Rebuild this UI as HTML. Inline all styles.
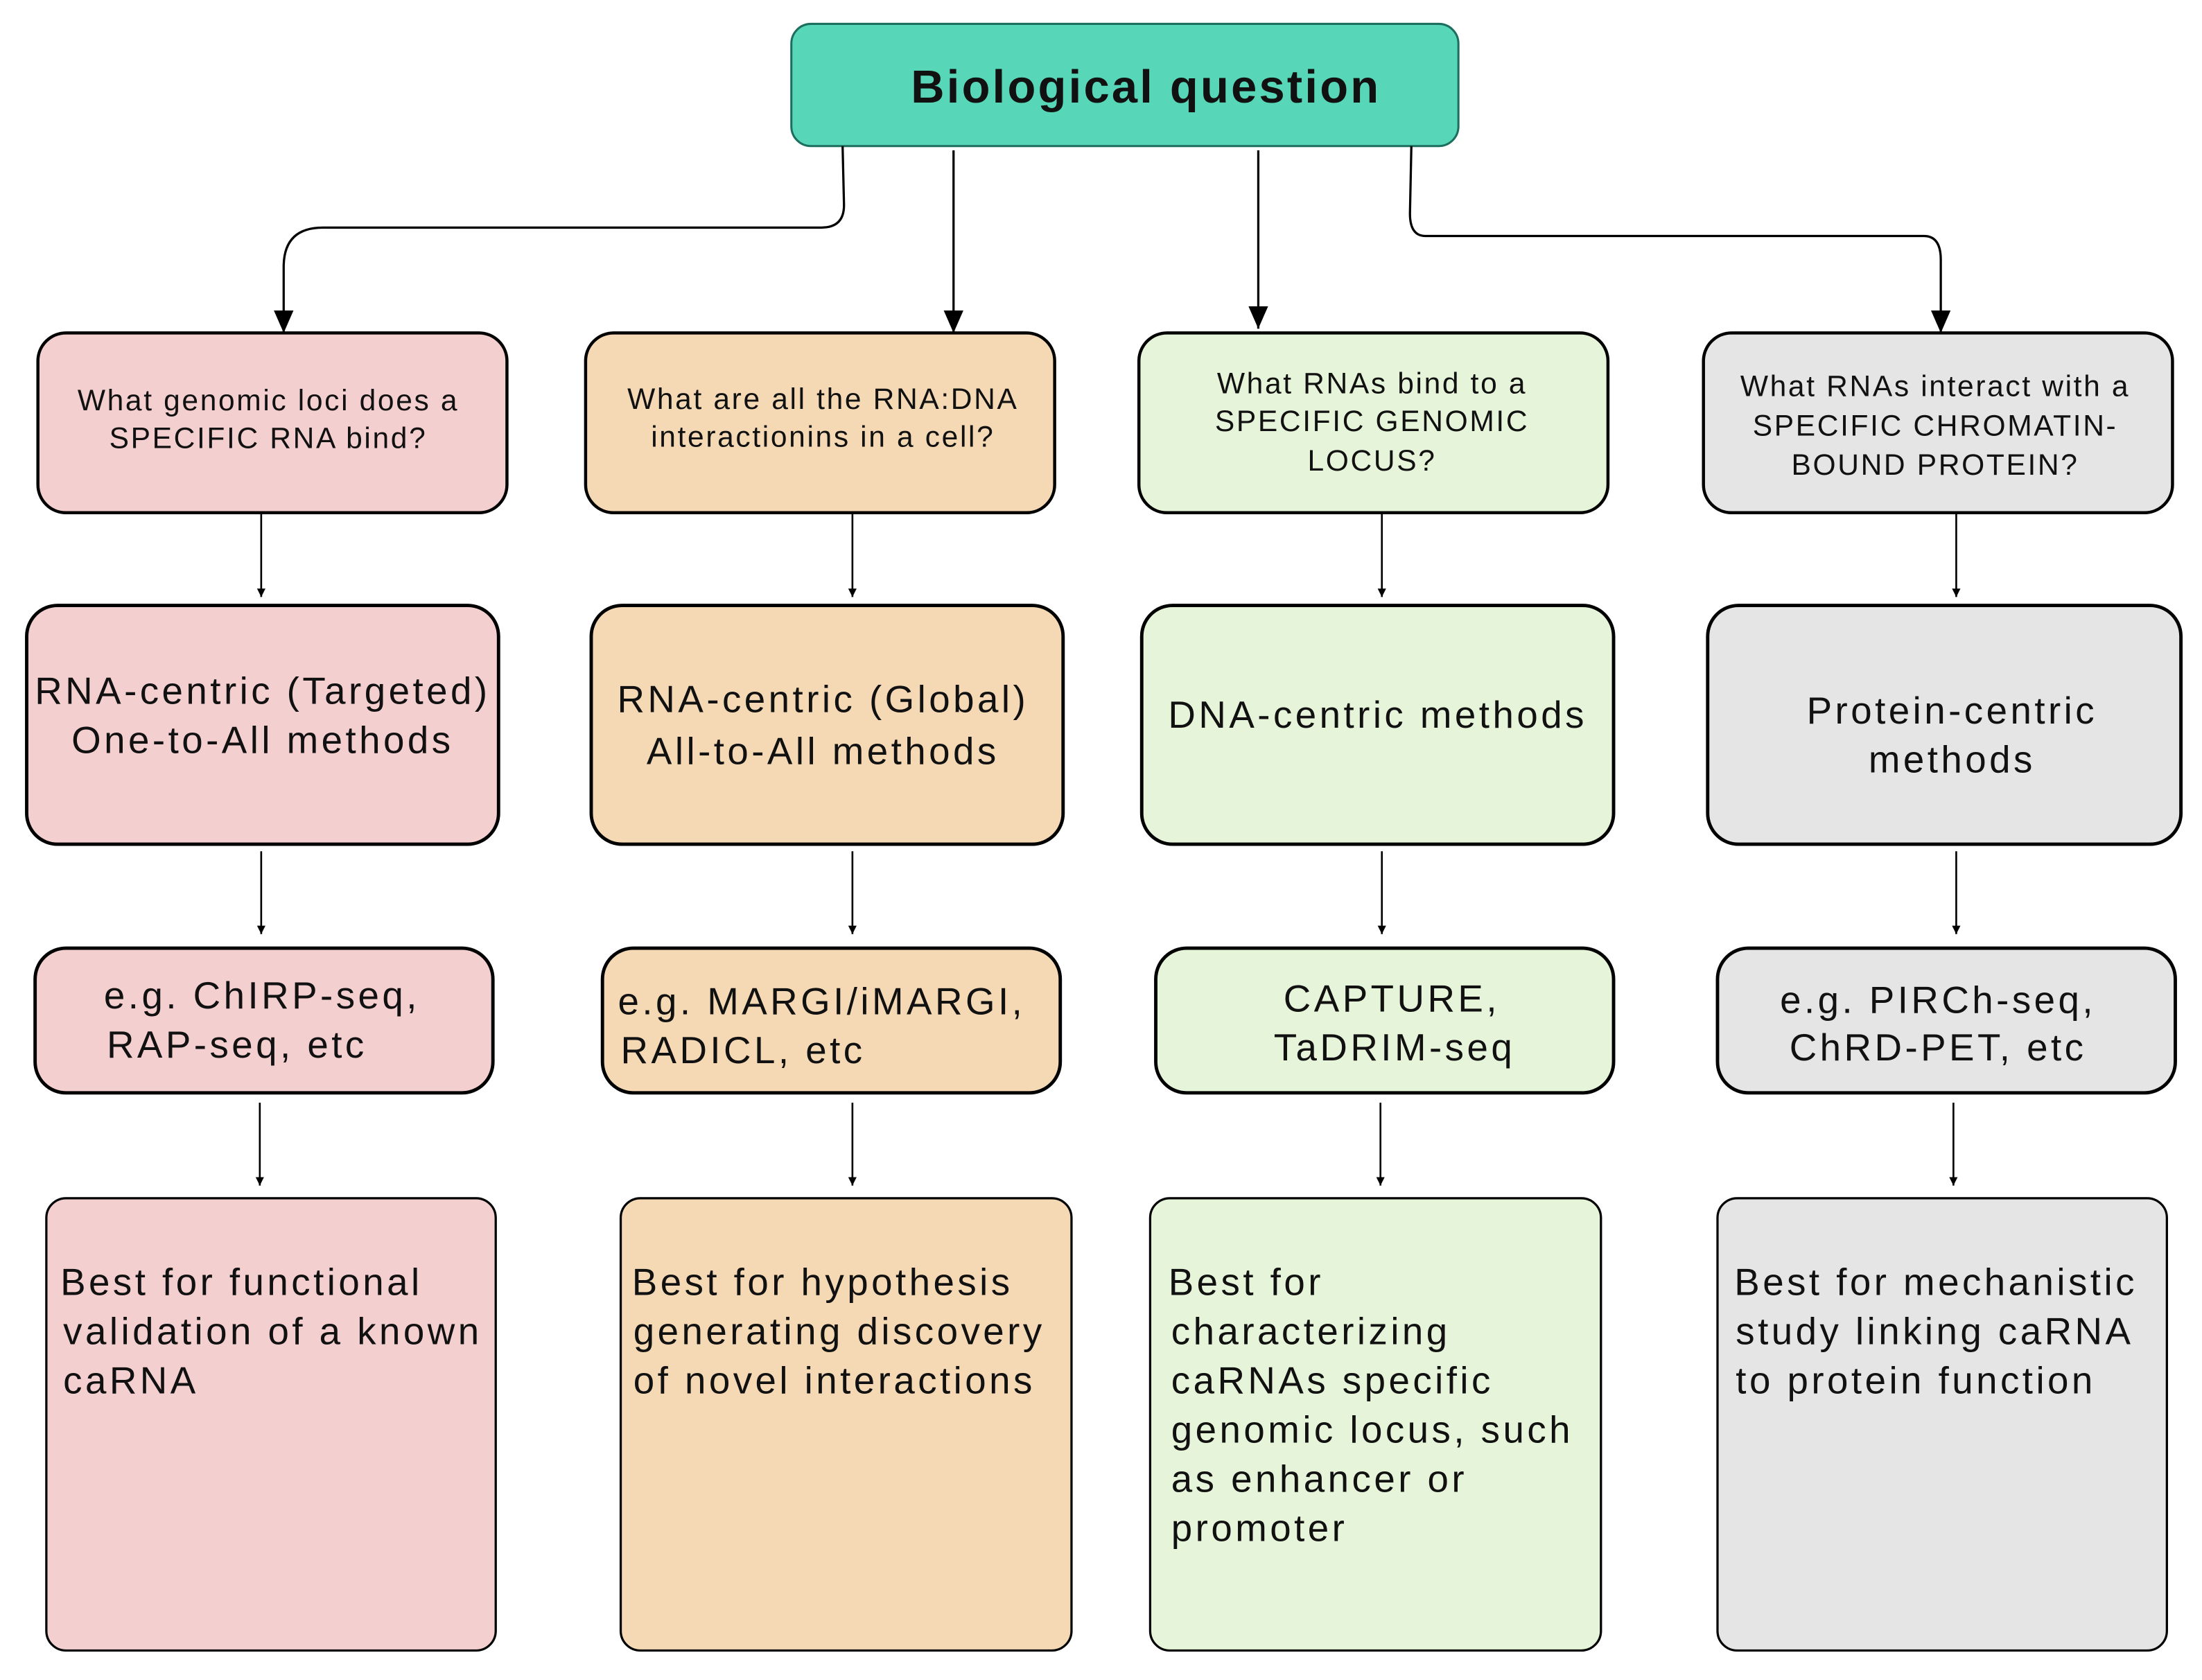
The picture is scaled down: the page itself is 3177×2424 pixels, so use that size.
<!DOCTYPE html>
<html><head><meta charset="utf-8"><style>
html,body{margin:0;padding:0;background:#fff;}
svg{display:block;}
text{font-family:"Liberation Sans",Arial,sans-serif;fill:#111;}
</style></head><body>
<svg width="3177" height="2424" viewBox="0 0 1568 1196" preserveAspectRatio="none" xmlns="http://www.w3.org/2000/svg" font-family="Liberation Sans, Arial, sans-serif">
<defs>
<marker id="s" markerWidth="6" markerHeight="6" refX="3" refY="6" markerUnits="userSpaceOnUse" viewBox="0 0 6 6"><path d="M0,0 L6,0 L3,6 Z" fill="#000"/></marker>
<marker id="b" markerWidth="14" markerHeight="16" refX="7" refY="16" markerUnits="userSpaceOnUse" viewBox="0 0 14 16"><path d="M0,0 L14,0 L7,16 Z" fill="#000"/></marker>
</defs>

<rect x="563.5" y="17" width="475" height="87" rx="14" fill="#57d6b8" stroke="#1c6e5e" stroke-width="1.5"/>
<text x="816" y="73" font-family="Liberation Sans, Arial, sans-serif" font-size="33" font-weight="bold" text-anchor="middle" letter-spacing="1.6">Biological question</text>

<g fill="none" stroke="#000" stroke-width="1.6">
<path d="M600,104 L601,146 Q601,162 585,162 L230,162 Q202,162 202,190 L202,237" marker-end="url(#b)"/>
<path d="M679,107 L679,237" marker-end="url(#b)"/>
<path d="M896,107 L896,234" marker-end="url(#b)"/>
<path d="M1005,104 L1004,152 Q1004,168 1015,168 L1370,168 Q1382,168 1382,185 L1382,237" marker-end="url(#b)"/>
</g>

<g stroke="#000" stroke-width="2.2">
<rect x="27" y="237" width="334" height="128" rx="20" fill="#f4cfd0"/>
<rect x="417" y="237" width="334" height="128" rx="20" fill="#f5d9b5"/>
<rect x="811" y="237" width="334" height="128" rx="20" fill="#e6f4d9"/>
<rect x="1213" y="237" width="334" height="128" rx="20" fill="#e5e5e5"/>
</g>
<g font-family="Liberation Sans, Arial, sans-serif" font-size="21" text-anchor="middle" letter-spacing="1.3">
<text x="191" y="292">What genomic loci does a</text>
<text x="191" y="319">SPECIFIC RNA bind?</text>
<text x="586" y="291">What are all the RNA:DNA</text>
<text x="586" y="318">interactionins in a cell?</text>
<text x="977" y="280">What RNAs bind to a</text>
<text x="977" y="307">SPECIFIC GENOMIC</text>
<text x="977" y="335">LOCUS?</text>
<text x="1378" y="282">What RNAs interact with a</text>
<text x="1378" y="310">SPECIFIC CHROMATIN-</text>
<text x="1378" y="338">BOUND PROTEIN?</text>
</g>

<g fill="none" stroke="#000" stroke-width="1.3">
<path d="M186,366 L186,425" marker-end="url(#s)"/>
<path d="M607,366 L607,425" marker-end="url(#s)"/>
<path d="M984,366 L984,425" marker-end="url(#s)"/>
<path d="M1393,366 L1393,425" marker-end="url(#s)"/>
<path d="M186,606 L186,665" marker-end="url(#s)"/>
<path d="M607,606 L607,665" marker-end="url(#s)"/>
<path d="M984,606 L984,665" marker-end="url(#s)"/>
<path d="M1393,606 L1393,665" marker-end="url(#s)"/>
<path d="M185,785 L185,844" marker-end="url(#s)"/>
<path d="M607,785 L607,844" marker-end="url(#s)"/>
<path d="M983,785 L983,844" marker-end="url(#s)"/>
<path d="M1391,785 L1391,844" marker-end="url(#s)"/>
</g>

<g stroke="#000" stroke-width="2.4">
<rect x="19" y="431" width="336" height="170" rx="22" fill="#f4cfd0"/>
<rect x="421" y="431" width="336" height="170" rx="22" fill="#f5d9b5"/>
<rect x="813" y="431" width="336" height="170" rx="22" fill="#e6f4d9"/>
<rect x="1216" y="431" width="337" height="170" rx="22" fill="#e5e5e5"/>
</g>
<g font-family="Liberation Sans, Arial, sans-serif" font-size="27" text-anchor="middle" letter-spacing="2.2">
<text x="187" y="501">RNA-centric (Targeted)</text>
<text x="187" y="536">One-to-All methods</text>
<text x="586" y="507">RNA-centric (Global)</text>
<text x="586" y="544">All-to-All methods</text>
<text x="981" y="518">DNA-centric methods</text>
<text x="1390" y="515">Protein-centric</text>
<text x="1390" y="550">methods</text>
</g>

<g stroke="#000" stroke-width="2.4">
<rect x="25" y="675" width="326" height="103" rx="22" fill="#f4cfd0"/>
<rect x="429" y="675" width="326" height="103" rx="22" fill="#f5d9b5"/>
<rect x="823" y="675" width="326" height="103" rx="22" fill="#e6f4d9"/>
<rect x="1223" y="675" width="326" height="103" rx="22" fill="#e5e5e5"/>
</g>
<g font-family="Liberation Sans, Arial, sans-serif" font-size="27" letter-spacing="2.2">
<text x="74" y="718">e.g. ChIRP-seq,</text>
<text x="76" y="753">RAP-seq, etc</text>
<text x="440" y="722">e.g. MARGI/iMARGI,</text>
<text x="442" y="757">RADICL, etc</text>
<text x="991" y="720" text-anchor="middle">CAPTURE,</text>
<text x="993" y="755" text-anchor="middle">TaDRIM-seq</text>
<text x="1380" y="721" text-anchor="middle">e.g. PIRCh-seq,</text>
<text x="1380" y="755" text-anchor="middle">ChRD-PET, etc</text>
</g>

<g stroke="#000" stroke-width="1.6">
<rect x="33" y="853" width="320" height="322" rx="14" fill="#f4cfd0"/>
<rect x="442" y="853" width="321" height="322" rx="14" fill="#f5d9b5"/>
<rect x="819" y="853" width="321" height="322" rx="14" fill="#e6f4d9"/>
<rect x="1223" y="853" width="320" height="322" rx="14" fill="#e5e5e5"/>
</g>
<g font-family="Liberation Sans, Arial, sans-serif" font-size="27" letter-spacing="2.2">
<text x="43" y="922">Best for functional</text>
<text x="45" y="957">validation of a known</text>
<text x="45" y="992">caRNA</text>
<text x="450" y="922">Best for hypothesis</text>
<text x="451" y="957">generating discovery</text>
<text x="451" y="992">of novel interactions</text>
<text x="832" y="922">Best for</text>
<text x="834" y="957">characterizing</text>
<text x="834" y="992">caRNAs specific</text>
<text x="834" y="1027">genomic locus, such</text>
<text x="834" y="1062">as enhancer or</text>
<text x="834" y="1097">promoter</text>
<text x="1235" y="922">Best for mechanistic</text>
<text x="1236" y="957">study linking caRNA</text>
<text x="1236" y="992">to protein function</text>
</g>
</svg>
</body></html>
